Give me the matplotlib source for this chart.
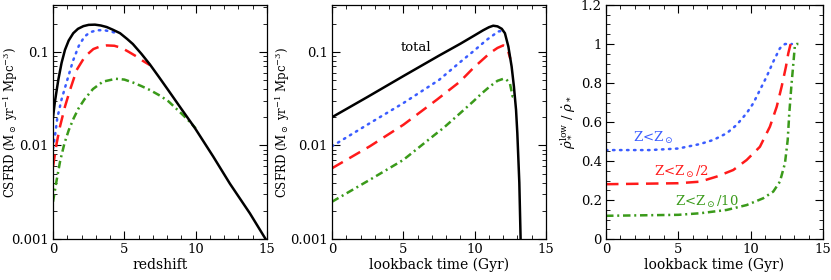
import matplotlib
matplotlib.use("Agg")
import matplotlib.pyplot as plt
from matplotlib.ticker import MultipleLocator, LogLocator, NullFormatter, FixedLocator, FixedFormatter

plt.rcParams['font.family'] = ['DejaVu Serif']
plt.rcParams['mathtext.fontset'] = 'dejavuserif'

# ---- Panel 1: CSFRD vs redshift ----
z_tot = [0.0, 0.13, 0.26, 0.37, 0.6, 0.84, 1.1, 1.42, 1.75, 2.13, 2.5, 2.94, 3.35, 3.76, 4.2, 4.7,
         5.2, 5.6, 6.2, 6.8, 7.4, 8.1, 9.0, 9.95, 11.23, 12.4, 13.8, 14.9]
sfr_tot_z = [0.020, 0.029, 0.039, 0.050, 0.076, 0.105, 0.132, 0.158, 0.176, 0.188, 0.194, 0.195, 0.191,
             0.184, 0.172, 0.158, 0.137, 0.121, 0.095, 0.073, 0.0545, 0.0385, 0.0245, 0.0153, 0.0076,
             0.0039, 0.00188, 0.001]

z_blue = [0.0, 0.15, 0.3, 0.6, 1.0, 1.4, 1.8, 2.2, 2.6, 3.1, 3.6, 4.1, 4.6]
sfr_blue_z = [0.0093, 0.013, 0.0195, 0.031, 0.050, 0.080, 0.115, 0.145, 0.162, 0.170, 0.170, 0.164, 0.156]

z_red = [0.0, 0.26, 0.49, 0.84, 1.19, 1.66, 2.24, 2.83, 3.3, 3.76, 4.3, 4.81, 5.3, 5.86, 6.3, 6.8]
sfr_red_z = [0.0059, 0.0106, 0.0159, 0.026, 0.039, 0.064, 0.089, 0.107, 0.114, 0.117, 0.116, 0.110,
             0.100, 0.089, 0.080, 0.072]

z_green = [0.0, 0.25, 0.5, 0.8, 1.1, 1.45, 1.8, 2.2, 2.8, 3.5, 4.4, 5.0, 5.6, 6.2, 6.8, 7.5, 8.1,
           8.6, 9.1, 9.6, 10.0]
sfr_green_z = [0.0025, 0.0042, 0.0068, 0.0105, 0.0145, 0.0195, 0.025, 0.031, 0.040, 0.048, 0.0515,
               0.0505, 0.047, 0.043, 0.039, 0.034, 0.0295, 0.025, 0.0212, 0.0178, 0.0152]

# ---- Panel 2: CSFRD vs lookback time ----
t_tot = [0.0, 2.5, 5.0, 7.5, 9.0, 10.0, 10.6, 11.0, 11.3, 11.6, 11.9, 12.12, 12.36, 12.59, 12.75,
         12.9, 12.99, 13.13, 13.22]
sfr_tot_t = [0.020, 0.033, 0.055, 0.091, 0.122, 0.150, 0.170, 0.183, 0.190, 0.187, 0.176, 0.158,
             0.114, 0.0697, 0.0427, 0.024, 0.0135, 0.004, 0.001]

t_blue = [0.0, 2.66, 5.0, 7.5, 9.0, 9.9, 10.84, 11.66, 12.05]
sfr_blue_t = [0.0098, 0.0173, 0.0283, 0.050, 0.078, 0.101, 0.134, 0.165, 0.168]

t_red = [0.0, 2.66, 5.0, 7.34, 8.97, 9.9, 11.07, 11.6, 12.0, 12.2, 12.36, 12.5]
sfr_red_t = [0.0057, 0.0098, 0.0166, 0.0307, 0.048, 0.067, 0.097, 0.110, 0.117, 0.113, 0.100, 0.084]

t_green = [0.0, 2.66, 5.0, 7.34, 7.8, 8.97, 9.9, 10.5, 11.07, 11.6, 12.0, 12.2, 12.47, 12.66, 12.8]
sfr_green_t = [0.0025, 0.0043, 0.0070, 0.0135, 0.0153, 0.022, 0.0295, 0.036, 0.0427, 0.049, 0.0514,
               0.051, 0.046, 0.0333, 0.033]

# ---- Panel 3: low-metallicity fraction vs lookback time ----
t_f_blue = [0.0, 3.0, 5.0, 6.5, 7.42, 8.34, 9.03, 9.72, 10.18, 10.64, 11.1, 11.56, 12.02, 12.37, 12.85]
f_blue = [0.456, 0.456, 0.464, 0.487, 0.508, 0.542, 0.585, 0.645, 0.696, 0.764, 0.832, 0.909, 0.978,
          1.0, 1.0]

t_f_red = [0.0, 5.0, 6.5, 7.65, 8.8, 9.72, 10.64, 11.33, 11.8, 12.14, 12.44, 12.6, 12.76, 12.95]
f_red = [0.281, 0.286, 0.294, 0.32, 0.354, 0.405, 0.473, 0.576, 0.678, 0.781, 0.884, 0.952, 1.0, 1.0]

t_f_green = [0.0, 5.0, 6.5, 8.34, 9.72, 10.87, 11.56, 12.02, 12.37, 12.56, 12.67, 12.81, 12.95,
             13.06, 13.18, 13.3]
f_green = [0.119, 0.124, 0.132, 0.149, 0.174, 0.209, 0.243, 0.294, 0.388, 0.508, 0.645, 0.781, 0.9,
           0.995, 1.0, 1.0]

labels_z = ["Z<Z$_\\odot$", "Z<Z$_\\odot$/2", "Z<Z$_\\odot$/10"]

c_blue = '#3a5cff'
c_red = '#ff1a1a'
c_green = '#3a9a1a'

fig = plt.figure(figsize=(8.31, 2.80), dpi=100)
W, H = 831, 280
def ax_at(l, r, t, b):
    return fig.add_axes([l / W, 1 - b / H, (r - l) / W, (b - t) / H])

ax1 = ax_at(53, 267, 5, 239)
ax2 = ax_at(332, 546, 5, 239)
ax3 = ax_at(606, 823, 5, 239)

lw = 1.8
blue_style = dict(color=c_blue, lw=lw, ls=(0, (0.6, 2.2)), dash_capstyle='round')
red_style = dict(color=c_red, lw=lw, ls=(0, (5, 3)))
green_style = dict(color=c_green, lw=lw, ls=(0, (3, 1.5, 0.8, 1.5)))
black_style = dict(color='black', lw=lw)

ax1.plot(z_green, sfr_green_z, **green_style)
ax1.plot(z_red, sfr_red_z, **red_style)
ax1.plot(z_blue, sfr_blue_z, **blue_style)
ax1.plot(z_tot, sfr_tot_z, **black_style)

ax2.plot(t_green, sfr_green_t, **green_style)
ax2.plot(t_red, sfr_red_t, **red_style)
ax2.plot(t_blue, sfr_blue_t, **blue_style)
ax2.plot(t_tot, sfr_tot_t, **black_style)
ax2.text(5.87, 0.11, "total", fontsize=9.5, ha='center', va='center')

ax3.plot(t_f_blue, f_blue, **blue_style)
ax3.plot(t_f_red, f_red, **red_style)
ax3.plot(t_f_green, f_green, **green_style)
ax3.text(3.25, 0.518, labels_z[0], color=c_blue, fontsize=9.5, ha='center', va='center')
ax3.text(5.2, 0.344, labels_z[1], color=c_red, fontsize=9.5, ha='center', va='center')
ax3.text(7.0, 0.19, labels_z[2], color=c_green, fontsize=9.5, ha='center', va='center')

for ax in (ax1, ax2):
    ax.set_yscale('log')
    ax.set_ylim(0.001, 10 ** -0.5)
    ax.set_xlim(0, 15)
    ax.yaxis.set_major_locator(FixedLocator([0.001, 0.01, 0.1]))
    ax.yaxis.set_major_formatter(FixedFormatter(['0.001', '0.01', '0.1']))
    ax.yaxis.set_minor_locator(LogLocator(base=10, subs=range(2, 10)))
    ax.yaxis.set_minor_formatter(NullFormatter())
    ax.set_ylabel("CSFRD (M$_\\odot$ yr$^{-1}$ Mpc$^{-3}$)", fontsize=8.5)

ax1.yaxis.set_label_coords((20 - 53) / 214, 0.5)
ax2.yaxis.set_label_coords((292 - 332) / 214, 0.5)

ax1.set_xlabel("redshift", fontsize=10, labelpad=1)
ax2.set_xlabel("lookback time (Gyr)", fontsize=10, labelpad=1)
ax3.set_xlabel("lookback time (Gyr)", fontsize=10, labelpad=1)

ax3.set_xlim(0, 15)
ax3.set_ylim(0, 1.2)
ax3.yaxis.set_major_locator(FixedLocator([0, 0.2, 0.4, 0.6, 0.8, 1.0, 1.2]))
ax3.yaxis.set_major_formatter(FixedFormatter(['0', '0.2', '0.4', '0.6', '0.8', '1', '1.2']))
ax3.yaxis.set_minor_locator(MultipleLocator(0.05))
ax3.set_ylabel("$\\dot{\\rho}_*^{\\rm low}$ / $\\dot{\\rho}_*$", fontsize=9.5)
ax3.yaxis.set_label_coords((577 - 606) / 217, 0.5)

for ax in (ax1, ax2, ax3):
    ax.xaxis.set_major_locator(MultipleLocator(5))
    ax.xaxis.set_minor_locator(MultipleLocator(1))
    ax.tick_params(which='both', direction='in', top=True, right=True, labelsize=9.5, pad=3)
    ax.tick_params(which='major', length=6, width=0.8)
    ax.tick_params(which='minor', length=3, width=0.6)
    for s in ax.spines.values():
        s.set_linewidth(0.9)

fig.savefig("out.png", dpi=100)
